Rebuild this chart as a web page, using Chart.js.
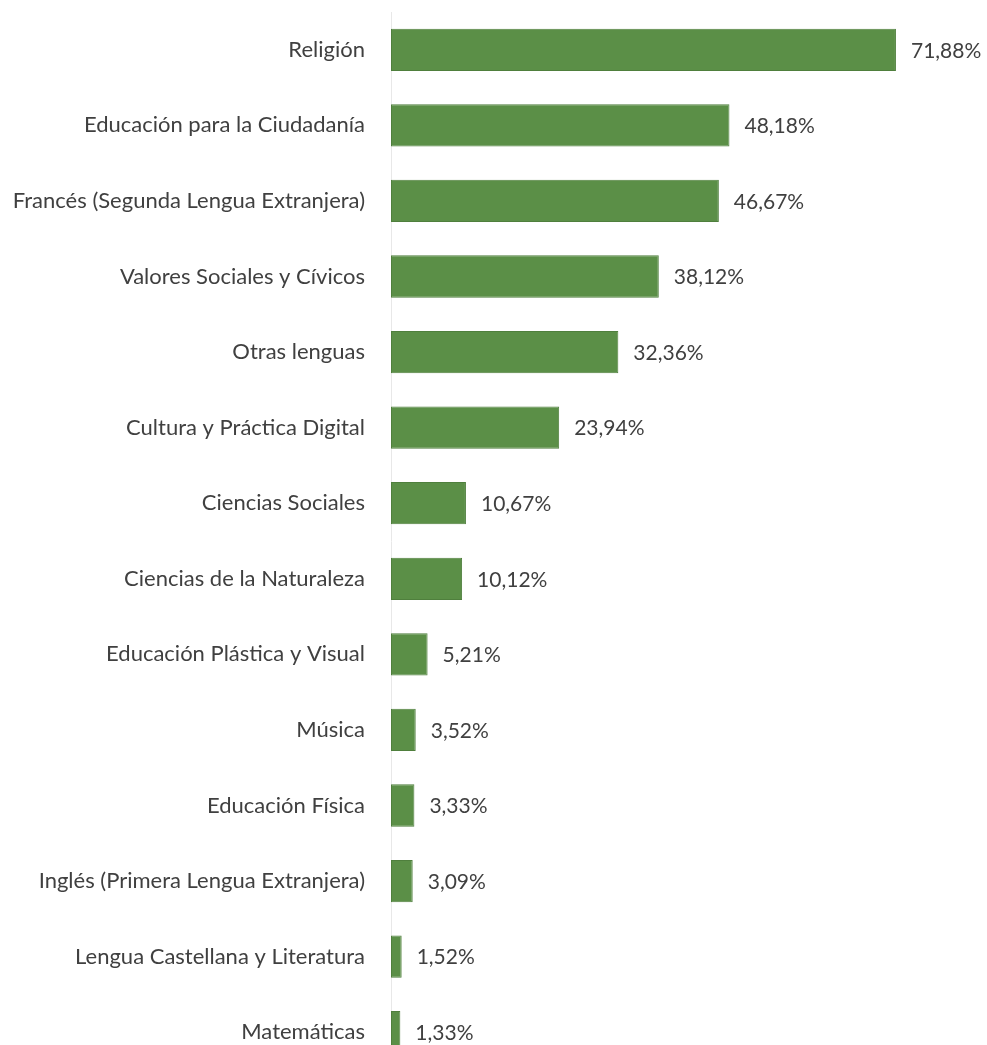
<!DOCTYPE html>
<html>
<head>
<meta charset="utf-8">
<script src="https://cdn.jsdelivr.net/npm/chart.js@4"></script>
<style>
  html, body { margin: 0; padding: 0; background: #fff; overflow: hidden; }
  canvas { display: block; }
</style>
</head>
<body>
<canvas id="chart" width="987" height="1070"></canvas>
<script>
const asignaturas = [
  'Religión',
  'Educación para la Ciudadanía',
  'Francés (Segunda Lengua Extranjera)',
  'Valores Sociales y Cívicos',
  'Otras lenguas',
  'Cultura y Práctica Digital',
  'Ciencias Sociales',
  'Ciencias de la Naturaleza',
  'Educación Plástica y Visual',
  'Música',
  'Educación Física',
  'Inglés (Primera Lengua Extranjera)',
  'Lengua Castellana y Literatura',
  'Matemáticas'
];
const porcentajes = [71.88, 48.18, 46.67, 38.12, 32.36, 23.94, 10.67, 10.12, 5.21, 3.52, 3.33, 3.09, 1.52, 1.33];

const fmt = v => v.toFixed(2).replace('.', ',') + '%';

// value labels at the end of each bar
const etiquetas = {
  id: 'etiquetas',
  afterDatasetsDraw(chart) {
    const ctx = chart.ctx;
    const meta = chart.getDatasetMeta(0);
    ctx.save();
    ctx.font = '21px Lato';
    ctx.fillStyle = '#404040';
    ctx.textAlign = 'left';
    ctx.textBaseline = 'middle';
    meta.data.forEach((bar, i) => {
      ctx.fillText(fmt(porcentajes[i]), bar.x + 15, bar.y + 1);
    });
    ctx.restore();
  }
};

new Chart(document.getElementById('chart'), {
  type: 'bar',
  data: {
    labels: asignaturas,
    datasets: [{
      data: porcentajes,
      backgroundColor: '#5b8f47',
      borderColor: '#4f7f3d',
      borderWidth: 1,
      borderSkipped: false,
      categoryPercentage: 1,
      barPercentage: 0.56
    }]
  },
  options: {
    indexAxis: 'y',
    responsive: false,
    animation: false,
    layout: { padding: { top: 12, right: 34, left: 0, bottom: 0 } },
    plugins: {
      legend: { display: false },
      tooltip: { enabled: false }
    },
    scales: {
      x: {
        min: 0,
        max: 80,
        display: false
      },
      y: {
        afterFit: scale => {
          scale.width = 391;
          scale.paddingTop = 0;
          scale.paddingBottom = 0;
        },
        grid: { display: false, drawTicks: false },
        border: { display: true, color: '#e8e8e8', width: 1 },
        ticks: {
          color: '#404040',
          font: { family: 'Lato', size: 22 },
          padding: 26
        }
      }
    }
  },
  plugins: [etiquetas]
});
</script>
</body>
</html>
